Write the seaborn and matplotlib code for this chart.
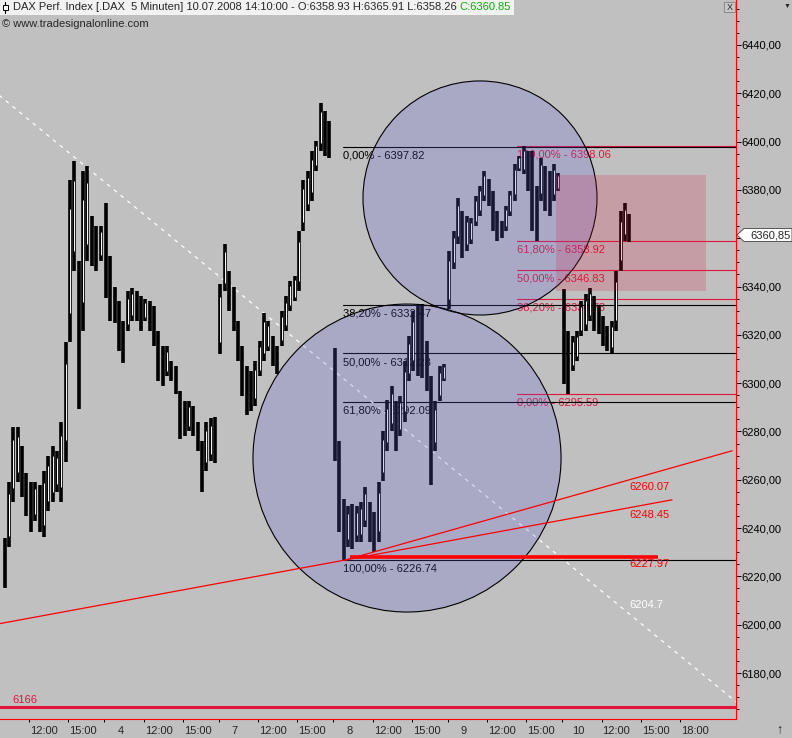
import numpy as np
import pandas as pd
import matplotlib.pyplot as plt
import seaborn as sns
from matplotlib.patches import Ellipse, Rectangle, Polygon
from matplotlib.lines import Line2D
from matplotlib.ticker import MultipleLocator, FuncFormatter
from matplotlib.transforms import blended_transform_factory

# DAX 5 min chart, resampled to 20 min slots, sessions 9:00-17:45 on a compressed time axis
day_labels = ['3', '4', '7', '8', '9', '10']
session_hours = 8.75
first_slot = [3, 0, 0, 0, 0, 0]

day3_low = [6215, 6232, 6251, 6259, 6253, 6245, 6238.5, 6243, 6238.5, 6236.5, 6247, 6251, 6255, 6251,
            6267.5, 6317, 6346.5, 6289.5, 6321.5, 6350.6, 6348.5, 6346.5, 6350.6]
day3_high = [6236, 6259, 6282, 6282, 6274, 6263, 6259, 6259, 6258, 6263.5, 6270, 6274, 6272, 6284,
             6317, 6384, 6392, 6350.6, 6388, 6390, 6369.3, 6365, 6365]
day4_low = [6335.3, 6325.7, 6325, 6313.3, 6308.3, 6321.5, 6325.7, 6325.7, 6321.5, 6325.7, 6321.5, 6315.3, 6300.8,
            6298.7, 6302.9, 6300.8, 6295.4, 6277, 6278, 6280, 6278, 6271.8, 6255, 6263.5, 6267.6, 6267]
day4_high = [6374.7, 6352.7, 6340, 6334, 6325.7, 6338, 6339.4, 6338, 6336, 6334.8, 6334, 6332, 6321.5,
             6315.3, 6315.3, 6309.1, 6307, 6296.6, 6292.5, 6292.5, 6290.4, 6284, 6276, 6284, 6285.4, 6286]
day7_low = [6312, 6338, 6330, 6321.5, 6309, 6294.6, 6287, 6288.4, 6290.4, 6302.9, 6309, 6313.3, 6307,
            6303.7, 6315.3, 6321.5, 6330, 6334, 6338, 6363, 6371.3, 6375.5, 6388, 6396, 6394.2, 6393.4]
day7_high = [6341, 6357.7, 6346.5, 6340, 6325.7, 6315.3, 6307, 6305, 6309, 6317.4, 6329, 6325.7, 6319.5,
             6315.3, 6329.9, 6336, 6342.3, 6344.4, 6363, 6384, 6388, 6396.3, 6400.4, 6415.8, 6412.8, 6408.7]
day8_low = [6267.6, 6238.5, 6226.7, 6232.3, 6231.5, 6234.4, 6234.4, 6240.6, 6234.4, 6230.3, 6234.4, 6259.3, 6271.8,
            6280, 6271.8, 6278, 6284, 6300.8, 6305, 6303, 6302, 6296.6, 6258, 6271.8, 6292.5, 6300.8]
day8_high = [6314.5, 6276, 6252, 6249, 6249.8, 6249, 6251, 6257, 6251, 6246.8, 6259, 6280, 6293,
             6298.7, 6292.5, 6294.6, 6309, 6319.5, 6330, 6332, 6332.8, 6317.4, 6303, 6292.5, 6307, 6307.9]
day9_low = [6330.7, 6347.3, 6357.7, 6351.8, 6354.8, 6357.7, 6365, 6369.3, 6375.5, 6373.4, 6363, 6358.9, 6360.2,
            6363, 6369.3, 6375.5, 6388, 6386.7, 6379.6, 6363, 6358.9, 6375.5, 6371.3, 6369.3, 6375.5, 6379.6]
day9_high = [6354.8, 6363, 6376.7, 6371.3, 6369.3, 6368.4, 6377.6, 6381.7, 6388, 6384.6, 6379.6, 6371.3, 6367.2,
             6373.4, 6379.6, 6390.9, 6394.2, 6398.1, 6396.3, 6396.3, 6381.7, 6393.4, 6390, 6388, 6390.9, 6387]
day10_low = [6299.6, 6295.6, 6305, 6309, 6319.5, 6321.5, 6325.7, 6321.5, 6320.3, 6315.3, 6313.3, 6312.4,
             6321.5, 6346.5, 6359, 6358.3]
day10_high = [6339, 6321.5, 6319.5, 6321.5, 6334, 6337, 6339.4, 6336, 6332, 6327.8, 6323.6, 6325.7,
              6346.5, 6371.3, 6374.7, 6370]

lows = [day3_low, day4_low, day7_low, day8_low, day9_low, day10_low]
highs = [day3_high, day4_high, day7_high, day8_high, day9_high, day10_high]

# fibonacci retracements
fib_black_pct = ['0,00%', '38,20%', '50,00%', '61,80%', '100,00%']
fib_black_val = [6397.82, 6332.47, 6312.28, 6292.09, 6226.74]
fib_black_start = 27.0
fib_red_pct = ['100,00%', '61,80%', '50,00%', '38,20%', '0,00%']
fib_red_val = [6398.06, 6358.92, 6346.83, 6334.73, 6295.59]
fib_red_start = 40.3

# trend lines (time in session hours, price)
upper_t = [27.14, 56.73]
upper_p = [6226.74, 6272.0]
lower_t = [0.0, 52.14]
lower_p = [6199.7, 6251.7]
dashed_t = [0.0, 57.1]
dashed_p = [6422.3, 6167.8]
support_t = [27.5, 51.07]
support_val = 6227.97
floor_val = 6166
t_now = 48.85
line_labels = ['6260.07', '6248.45', '6227.97']
line_label_val = [6260.07, 6248.45, 6227.97]
dashed_label = '6204.7'
dashed_label_val = 6204.7

last_close = 6360.85

rows = []
for i in range(len(lows)):
    for k, (lo, hi) in enumerate(zip(lows[i], highs[i])):
        rows.append({'t': i * session_hours + (first_slot[i] + k) / 3 + 0.12, 'low': lo, 'high': hi})
bars = pd.DataFrame(rows)
bars['mid'] = (bars['low'] + bars['high']) / 2
bars['up'] = bars['mid'].diff() > 0

sns.set_theme(style='ticks', rc={'axes.facecolor': '#C0C0C0', 'figure.facecolor': '#C0C0C0'})
plt.rcParams['font.family'] = ['Liberation Sans', 'DejaVu Sans']

W, H = 792, 738
fig = plt.figure(figsize=(W / 100, H / 100), dpi=100)
ax = fig.add_axes([0, 19 / H, 736 / W, 719 / H])
ax.set_xlim(0.765, 57.03)
ax.set_ylim(6160.96, 6458.63)

crimson = '#E0143C'

# fib levels (under the price bars), black set on top of the red one
xmax = ax.get_xlim()[1]
for pct, v in zip(fib_red_pct, fib_red_val):
    ax.plot([fib_red_start, xmax], [v, v], color=crimson, lw=0.8, zorder=2)
    ax.text(fib_red_start, v - 3.6, f'{pct} - {v:.2f}', color=crimson, fontsize=8, va='center', ha='left', zorder=2)
for pct, v in zip(fib_black_pct, fib_black_val):
    ax.plot([fib_black_start, xmax], [v, v], color='black', lw=0.8, zorder=2.2)
    ax.text(fib_black_start, v - 3.6, f'{pct} - {v:.2f}', color='black', fontsize=8, va='center', ha='left', zorder=2.2)

sns.lineplot(x=dashed_t, y=dashed_p, color='white', lw=0.9, linestyle=(0, (3, 4)), ax=ax, zorder=2.5)

# price bars
ax.vlines(bars['t'], bars['low'], bars['high'], color='black', lw=2.6, zorder=3)
up = bars[bars['up']]
rng = up['high'] - up['low']
ax.vlines(up['t'], up['low'] + 0.18 * rng, up['high'] - 0.18 * rng, color='white', lw=0.7, zorder=3.1)

# circles and zone
ax.add_patch(Ellipse((37.46, 6376.66), 17.89, 96.9, facecolor=(0.39, 0.39, 0.86, 0.24),
                     edgecolor='black', lw=0.8, zorder=4))
ax.add_patch(Ellipse((31.88, 6269.0), 23.55, 127.5, facecolor=(0.39, 0.39, 0.86, 0.24),
                     edgecolor='black', lw=0.8, zorder=4))
ax.add_patch(Rectangle((43.27, 6338.2), 54.74 - 43.27, 6386.2 - 6338.2,
                       facecolor=(0.86, 0.1, 0.24, 0.2), edgecolor='none', zorder=5))

# trend lines
sns.lineplot(x=upper_t, y=upper_p, color='red', lw=0.9, ax=ax, zorder=6)
sns.lineplot(x=lower_t, y=lower_p, color='red', lw=0.9, ax=ax, zorder=6)
ax.plot(support_t, [support_val, support_val], color='red', lw=2.6, zorder=6, solid_capstyle='butt')
ax.axhline(floor_val, color=crimson, lw=2.2, zorder=6)
for lab, v in zip(line_labels, line_label_val):
    ax.text(t_now, v - 2.9, lab, color='red', fontsize=8, va='center', ha='left', zorder=6)
ax.text(t_now, dashed_label_val + 3.3, dashed_label, color='white', fontsize=8, va='center', ha='left', zorder=6)
ax.text(1.68, floor_val + 2.9, str(floor_val), color=crimson, fontsize=8, va='center', ha='left', zorder=6)

# axes styling
for s in ['left', 'top']:
    ax.spines[s].set_visible(False)
for s in ['right', 'bottom']:
    ax.spines[s].set_color('red')
    ax.spines[s].set_linewidth(0.8)
ax.yaxis.tick_right()
ax.set_yticks(np.arange(6180, 6441, 20))
ax.yaxis.set_minor_locator(MultipleLocator(5))
# the 6360 label sits under the last price tag
ax.yaxis.set_major_formatter(FuncFormatter(
    lambda v, p: '' if abs(v - 6360) < 1 else f'{v:.2f}'.replace('.', ',')))
ax.tick_params(axis='y', which='major', direction='out', length=3.5, width=0.7, pad=0.5,
               labelsize=8, colors='black')
ax.tick_params(axis='y', which='minor', direction='out', length=2, width=0.7, colors='black')

tick_pos, tick_lab = [], []
for i, d in enumerate(day_labels):
    start = i * session_hours
    if i > 0:
        tick_pos.append(start)
        tick_lab.append((d, start + 1.22, 'center'))
    hours = [12, 15] + ([18] if i == len(day_labels) - 1 else [])
    for hr in hours:
        tick_pos.append(start + hr - 9)
        tick_lab.append((f'{hr}:00', start + hr - 9 + 0.08, 'left'))
ax.set_xticks(tick_pos)
ax.set_xticklabels([])
ax.tick_params(axis='x', direction='out', length=2.5, width=0.7, colors='black')
trans = blended_transform_factory(ax.transData, ax.transAxes)
for lab, xpos, ha in tick_lab:
    ax.text(xpos, -12 / 719, lab, transform=trans, fontsize=8, ha=ha, va='center', clip_on=False)
ax.set_xlabel('')
ax.set_ylabel('')


def fx(px):
    return px / W


def fy(py):
    return 1 - py / H


# header
hdr = fig.text(fx(13), fy(7.5), 'DAX Perf. Index [.DAX  5 Minuten] 10.07.2008 14:10:00 - O:6358.93 H:6365.91 L:6358.26 ',
               fontsize=8, va='center', ha='left', zorder=10)
renderer = fig.canvas.get_renderer()
bb = hdr.get_window_extent(renderer)
grn = fig.text(bb.x1 / W, fy(7.5), 'C:6360.85', fontsize=8, color='#00B400', va='center', ha='left', zorder=10)
bb2 = grn.get_window_extent(renderer)
fig.patches.append(Rectangle((0, fy(15)), (bb2.x1 + 3) / W, 15 / H, transform=fig.transFigure,
                             facecolor='#F2F2F2', edgecolor='none', zorder=9))
fig.add_artist(Line2D([fx(5), fx(5)], [fy(2), fy(13)], color='black', lw=0.8, zorder=10))
fig.patches.append(Rectangle((fx(2.5), fy(10)), 5 / W, 5 / H, transform=fig.transFigure,
                             facecolor='white', edgecolor='black', lw=0.7, zorder=11))
fig.text(fx(2), fy(24), '© www.tradesignalonline.com', fontsize=8, va='center', ha='left')

# close button and menu arrow
fig.patches.append(Rectangle((fx(724), fy(12)), 11 / W, 10 / H, transform=fig.transFigure,
                             facecolor='#C8C8C8', edgecolor='#808080', lw=0.6, zorder=10))
fig.text(fx(729.5), fy(7), 'X', fontsize=6.5, ha='center', va='center', zorder=11)
fig.text(fx(787), fy(6), '▼', fontsize=5, ha='center', va='center')
fig.text(fx(779), fy(729), '↑', fontsize=9, ha='center', va='center')

# last price tag
fig.patches.append(Polygon([(fx(737), fy(235)), (fx(744), fy(228.5)), (fx(792), fy(228.5)),
                            (fx(792), fy(241.5)), (fx(744), fy(241.5))], closed=True,
                           transform=fig.transFigure, facecolor='white', edgecolor='#404040', lw=0.6, zorder=10))
fig.text(fx(750), fy(235), f'{last_close:.2f}'.replace('.', ','), fontsize=8, va='center', ha='left', zorder=11)

fig.savefig('out.png', dpi=100, facecolor=fig.get_facecolor())
